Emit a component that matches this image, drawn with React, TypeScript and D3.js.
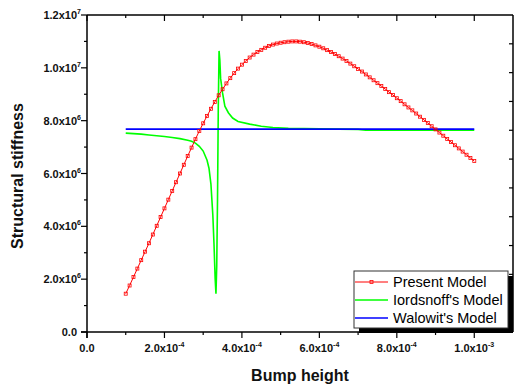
import React from "react";
import * as d3 from "d3";

// Present Model: x from 1.0e-4 to 1.0e-3, step 1e-5 ; values in units of 1e6
const PRESENT_X_START = 1e-4;
const PRESENT_X_STEP = 1e-5;
const presentValues = [
  1.45, 1.76, 2.08, 2.40, 2.72, 3.04, 3.36, 3.69, 4.02, 4.35,
  4.68, 5.01, 5.34, 5.67, 6.00, 6.33, 6.66, 6.98, 7.30, 7.61,
  7.90, 8.18, 8.45, 8.71, 8.96, 9.19, 9.41, 9.61, 9.80, 9.97,
  10.12, 10.26, 10.39, 10.50, 10.60, 10.68, 10.76, 10.83, 10.88, 10.92,
  10.95, 10.97, 10.99, 11.00, 11.00, 10.99, 10.97, 10.94, 10.90, 10.85,
  10.80, 10.74, 10.67, 10.60, 10.52, 10.44, 10.35, 10.26, 10.16, 10.06,
  9.96, 9.86, 9.75, 9.64, 9.53, 9.42, 9.31, 9.20, 9.08, 8.97,
  8.85, 8.74, 8.62, 8.50, 8.39, 8.27, 8.15, 8.03, 7.91, 7.79,
  7.67, 7.55, 7.43, 7.31, 7.19, 7.07, 6.95, 6.83, 6.71, 6.59,
  6.47,
];

// Iordsnoff's Model (x in 1e-4, value in 1e6)
const iordX = [
  1.0, 1.2, 1.4, 1.6, 1.8, 2.0, 2.2, 2.4, 2.6, 2.7, 2.8, 2.9, 3.0, 3.1, 3.15,
  3.2, 3.25, 3.28, 3.31, 3.33, 3.35, 3.37, 3.39, 3.41, 3.43, 3.45, 3.5, 3.56,
  3.65, 3.76, 3.9, 4.2, 4.5, 4.8, 5.2, 5.6, 6.0, 6.5, 7.0, 7.2, 8.0, 9.0, 10.0,
];
const iordValues = [
  7.53, 7.51, 7.49, 7.46, 7.43, 7.40, 7.36, 7.32, 7.26, 7.22, 7.15, 7.03, 6.85,
  6.50, 6.20, 5.60, 4.40, 3.30, 2.00, 1.45, 2.50, 5.00, 8.50, 10.64, 10.30,
  9.60, 9.05, 8.55, 8.30, 8.10, 7.97, 7.87, 7.79, 7.74, 7.71, 7.70, 7.69,
  7.68, 7.67, 7.64, 7.64, 7.64, 7.64,
];

// Walowit's Model
const walowitX = [1.0, 2.0, 4.0, 6.0, 8.0, 10.0];
const walowitValues = [7.68, 7.68, 7.68, 7.68, 7.68, 7.68];

const xMajor = [0, 2e-4, 4e-4, 6e-4, 8e-4, 1e-3];
const xLabels = [["0.0", ""], ["2.0x10", "-4"], ["4.0x10", "-4"], ["6.0x10", "-4"], ["8.0x10", "-4"], ["1.0x10", "-3"]];
const yMajor = [0, 2e6, 4e6, 6e6, 8e6, 1e7, 1.2e7];
const yLabels = [["0.0", ""], ["2.0x10", "6"], ["4.0x10", "6"], ["6.0x10", "6"], ["8.0x10", "6"], ["1.0x10", "7"], ["1.2x10", "7"]];

const seriesNames = ["Present Model", "Iordsnoff's Model", "Walowit's Model"];
const seriesColors = ["#ff0000", "#00ff00", "#0000ff"];

const FONT = "Arial, 'Liberation Sans', sans-serif";

export default function App() {
  const L = 87, R = 513, T = 15, B = 332;
  const x = d3.scaleLinear().domain([0, 1.1e-3]).range([L, R]);
  const y = d3.scaleLinear().domain([0, 1.2e7]).range([B, T]);

  const present = presentValues.map((v, i) => [PRESENT_X_START + i * PRESENT_X_STEP, v * 1e6]);
  const iord = iordX.map((xv, i) => [xv * 1e-4, iordValues[i] * 1e6]);
  const walo = walowitX.map((xv, i) => [xv * 1e-4, walowitValues[i] * 1e6]);

  const line = d3.line<number[]>().x((d) => x(d[0])).y((d) => y(d[1]));
  const lineSmooth = d3.line<number[]>().x((d) => x(d[0])).y((d) => y(d[1])).curve(d3.curveMonotoneX);

  const xMinor = d3.range(0, 11).map((i) => i * 1e-4).filter((v, i) => i % 2 === 1);
  const yMinor = d3.range(0, 12).map((i) => i * 1e6).filter((v, i) => i % 2 === 1);
  const rightTicks = d3.range(1, 11).map((i) => T + ((B - T) * i) / 11);

  return (
    <svg width={516} height={388} style={{ position: "absolute", left: 0, top: 0, background: "#fff" }} fontFamily={FONT}>
      <rect x={0} y={0} width={516} height={388} fill="#fff" />
      {/* frame */}
      <line x1={L} x2={R} y1={T} y2={T} stroke="#000" strokeWidth={1.5} />
      <line x1={R} x2={R} y1={T} y2={B} stroke="#000" strokeWidth={1.5} />
      {/* top ticks inward */}
      {xMajor.map((v) => (
        <line key={"tM" + v} x1={x(v)} x2={x(v)} y1={T} y2={T + 6} stroke="#000" strokeWidth={1.2} />
      ))}
      {xMinor.map((v) => (
        <line key={"tm" + v} x1={x(v)} x2={x(v)} y1={T} y2={T + 3} stroke="#000" strokeWidth={1.2} />
      ))}
      {rightTicks.map((py, i) => (
        <line key={"r" + i} x1={R - 4} x2={R} y1={py} y2={py} stroke="#000" strokeWidth={1.2} />
      ))}

      {/* series */}
      <path d={line(iord) || ""} fill="none" stroke={seriesColors[1]} strokeWidth={1.6} />
      <path d={line(walo) || ""} fill="none" stroke={seriesColors[2]} strokeWidth={1.8} />
      <path d={lineSmooth(present) || ""} fill="none" stroke={seriesColors[0]} strokeWidth={1} />
      {present.map((d, i) => (
        <rect key={"m" + i} x={x(d[0]) - 1.5} y={y(d[1]) - 1.5} width={3} height={3} fill="none" stroke={seriesColors[0]} strokeWidth={0.8} />
      ))}

      {/* left axis */}
      <line x1={L} x2={L} y1={T} y2={B + 6} stroke="#000" strokeWidth={1.5} />
      {yMajor.map((v) => (
        <line key={"yM" + v} x1={L - 6} x2={L} y1={y(v)} y2={y(v)} stroke="#000" strokeWidth={1.2} />
      ))}
      {yMinor.map((v) => (
        <line key={"ym" + v} x1={L - 3} x2={L} y1={y(v)} y2={y(v)} stroke="#000" strokeWidth={1.2} />
      ))}
      {yMajor.map((v, i) => (
        <text key={"yl" + v} x={yLabels[i][1] ? 81 : 77} y={y(v) + 4} textAnchor="end" fontSize={11} fontWeight="bold" fill="#111">
          {yLabels[i][0]}
          {yLabels[i][1] ? (
            <tspan fontSize={7} dy={-5}>{yLabels[i][1]}</tspan>
          ) : null}
        </text>
      ))}

      {/* bottom axis */}
      <line x1={L - 6} x2={R} y1={B} y2={B} stroke="#000" strokeWidth={1.5} />
      {xMajor.map((v) => (
        <line key={"xM" + v} x1={x(v)} x2={x(v)} y1={B} y2={B + 6} stroke="#000" strokeWidth={1.2} />
      ))}
      {xMinor.map((v) => (
        <line key={"xm" + v} x1={x(v)} x2={x(v)} y1={B} y2={B + 3} stroke="#000" strokeWidth={1.2} />
      ))}
      {xMajor.map((v, i) => (
        <text key={"xl" + v} x={x(v)} y={352} textAnchor="middle" fontSize={11} fontWeight="bold" fill="#111">
          {xLabels[i][0]}
          {xLabels[i][1] ? (
            <tspan fontSize={7} dy={-5}>{xLabels[i][1]}</tspan>
          ) : null}
        </text>
      ))}

      {/* titles */}
      <text x={(L + R) / 2} y={381} textAnchor="middle" fontSize={16} fontWeight="bold" fill="#111">Bump height</text>
      <text transform={`translate(23, ${176}) rotate(-90)`} textAnchor="middle" fontSize={16} fontWeight="bold" fill="#111">Structural stiffness</text>

      {/* legend */}
      <rect x={359} y={276} width={154} height={57} fill="#000" />
      <rect x={354} y={271} width={154} height={57} fill="#fff" stroke="#333" strokeWidth={1} />
      {seriesNames.map((n, i) => (
        <g key={n}>
          <line x1={355} x2={388} y1={282 + i * 18} y2={282 + i * 18} stroke={seriesColors[i]} strokeWidth={i === 0 ? 1 : 1.6} />
          {i === 0 ? <rect x={370} y={280.5} width={3} height={3} fill="none" stroke={seriesColors[0]} strokeWidth={0.8} /> : null}
          <text x={393} y={287 + i * 18} fontSize={14.5} fill="#000">{n}</text>
        </g>
      ))}
    </svg>
  );
}
